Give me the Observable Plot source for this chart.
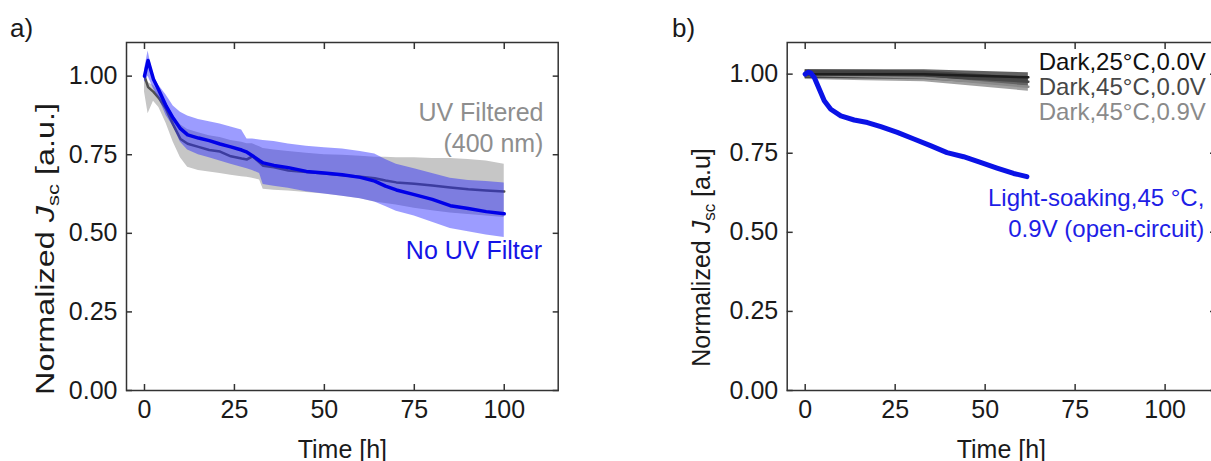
<!DOCTYPE html>
<html><head><meta charset="utf-8">
<script src="https://cdn.jsdelivr.net/npm/d3@7"></script>
<script src="https://cdn.jsdelivr.net/npm/@observablehq/plot@0.6"></script>
<style>
html,body{margin:0;padding:0;background:#fff;}
#wrap{position:relative;width:1211px;height:461px;overflow:hidden;}
#pa{position:absolute;left:0;top:0;width:600px;}
#pb{position:absolute;left:600px;top:0;width:625px;}
#wrap svg{max-width:none !important;display:block;}
</style></head><body><div id="wrap"><div id="pa"></div><div id="pb"></div></div>
<script>
// ---------- data: panel a ----------
const xTicks = [0, 25, 50, 75, 100];
const yTicks = [0, 0.25, 0.5, 0.75, 1.0];
const timeA = [0,1,2.5,4,6,8,10,12,15,18,21,24,27,28.5,30,32,33,36,40,45,50,55,60,64,67,70,75,80,85,90,95,100];
const noUvMean = [1.0,1.05,0.99,0.955,0.905,0.866,0.833,0.813,0.803,0.795,0.784,0.775,0.765,0.758,0.747,0.731,0.724,0.716,0.709,0.697,0.692,0.686,0.678,0.666,0.650,0.638,0.623,0.608,0.588,0.579,0.569,0.562];
const noUvHi   = [1.02,1.08,1.0,0.97,0.94,0.905,0.885,0.873,0.862,0.855,0.848,0.838,0.829,0.80,0.80,0.797,0.795,0.792,0.784,0.777,0.772,0.768,0.76,0.752,0.735,0.72,0.705,0.69,0.675,0.668,0.665,0.66];
const noUvLo   = [0.98,1.0,0.96,0.93,0.875,0.84,0.79,0.765,0.75,0.74,0.73,0.72,0.71,0.705,0.70,0.69,0.655,0.65,0.643,0.632,0.625,0.618,0.61,0.60,0.585,0.57,0.555,0.535,0.515,0.505,0.495,0.487];
const uvMean   = [1.0,0.965,0.95,0.93,0.895,0.845,0.80,0.785,0.775,0.765,0.76,0.745,0.738,0.735,0.745,0.725,0.715,0.71,0.70,0.695,0.69,0.685,0.68,0.675,0.668,0.662,0.658,0.652,0.646,0.64,0.636,0.633];
const uvHi     = [1.0,0.98,0.97,0.95,0.915,0.875,0.845,0.83,0.82,0.81,0.805,0.795,0.79,0.785,0.785,0.775,0.77,0.765,0.76,0.755,0.75,0.748,0.745,0.742,0.742,0.74,0.74,0.738,0.738,0.735,0.73,0.72];
const uvLo     = [0.95,0.88,0.92,0.90,0.85,0.79,0.74,0.71,0.70,0.695,0.69,0.685,0.68,0.678,0.675,0.67,0.64,0.637,0.635,0.63,0.625,0.618,0.61,0.60,0.595,0.59,0.58,0.572,0.565,0.56,0.555,0.55];
const labelsA = ["UV Filtered\n(400 nm)", "No UV Filter"];

// ---------- data: panel b ----------
const darkTime = [0, 17, 33, 62];
const dark25_00 = [1.0, 1.0, 1.0, 0.99];
const dark45_00 = [1.0, 0.998, 0.996, 0.976];
const dark45_09 = [0.997, 0.993, 0.99, 0.96];
const lsTime = [0,0.8,1.5,2.5,3.9,5.3,7.1,9.9,13.6,17.3,21,25.6,30.2,34.8,39.4,44,48.7,53.3,57.9,61.6];
const lsValue = [1.0,1.006,1.004,0.99,0.953,0.916,0.889,0.868,0.855,0.847,0.834,0.816,0.795,0.774,0.752,0.739,0.721,0.703,0.686,0.676];
const labelsB = ["Dark,25°C,0.0V", "Dark,45°C,0.0V", "Dark,45°C,0.9V", "Light-soaking,45 °C,\n0.9V (open-circuit)"];
const xLabel = "Time [h]";

const FONT = "'Liberation Sans', Arial, Helvetica, sans-serif";
const AX = "#333";
const TXT = "#1a1a1a";

function frameMarks() {
  return [
    Plot.axisX(xTicks, {anchor:"bottom", tickSize:0, tickPadding:10, label:null, fontSize:25, fill:TXT}),
    Plot.axisX(xTicks, {anchor:"bottom", tickSize:-6, fill:"none", label:null, stroke:AX, strokeWidth:1.5}),
    Plot.axisX(xTicks, {anchor:"top", tickSize:-6, fill:"none", label:null, stroke:AX, strokeWidth:1.5}),
    Plot.axisY(yTicks, {anchor:"left", tickSize:0, tickPadding:9, label:null, fontSize:25, fill:TXT, tickFormat:d3.format(".2f")}),
    Plot.axisY(yTicks, {anchor:"left", tickSize:-6, fill:"none", label:null, stroke:AX, strokeWidth:1.5}),
    Plot.axisY(yTicks, {anchor:"right", tickSize:-6, fill:"none", label:null, stroke:AX, strokeWidth:1.5}),
    Plot.frame({stroke:AX, strokeWidth:1.5}),
    Plot.text([xLabel], {frameAnchor:"bottom", lineAnchor:"middle", dy:59, text:d=>d, fontSize:25, fill:TXT})
  ];
}

function addYLabel(svg, cx, cy, len, suffix) {
  const t = d3.select(svg).append("text")
    .attr("transform", `translate(${cx},${cy}) rotate(-90)`)
    .attr("text-anchor","middle").attr("dy","0.35em")
    .attr("font-size",25).attr("fill",TXT).attr("font-family", FONT);
  t.append("tspan").text("Normalized ");
  t.append("tspan").attr("font-style","italic").text("J");
  t.append("tspan").attr("font-size",17).attr("dy",5).text("sc");
  t.append("tspan").attr("dy",-5).text(" " + suffix);
  if (len) t.attr("textLength", len).attr("lengthAdjust","spacingAndGlyphs");
}
function addPanelLetter(svg, x, s) {
  d3.select(svg).append("text").attr("x",x).attr("y",28).attr("dy","0.35em")
    .attr("text-anchor","start")
    .attr("font-size",26).attr("fill",TXT).attr("font-family",FONT).text(s);
}

// ---------- panel a ----------
const rowsA = timeA.map((t,i)=>({t, m:noUvMean[i], hi:noUvHi[i], lo:noUvLo[i], gm:uvMean[i], ghi:uvHi[i], glo:uvLo[i]}));
const plotA = Plot.plot({
  width:600, height:461,
  marginLeft:126, marginRight:42.3, marginTop:42, marginBottom:71,
  x:{domain:[-5,115], axis:null},
  y:{domain:[0,1.107], axis:null},
  style:{fontFamily:FONT, fontSize:"25px", color:TXT, background:"transparent"},
  marks:[
    Plot.areaY(rowsA, {x:"t", y1:"glo", y2:"ghi", fill:"#c6c6c6"}),
    Plot.lineY(rowsA, {x:"t", y:"gm", stroke:"#505050", strokeWidth:2.5}),
    Plot.areaY(rowsA, {x:"t", y1:"lo", y2:"hi", fill:"#2323ff", fillOpacity:0.45}),
    Plot.lineY(rowsA, {x:"t", y:"m", stroke:"#0000e8", strokeWidth:3.5}),
    Plot.text([labelsA[0]], {x:110.9, y:0.84, text:d=>d, textAnchor:"end", fontSize:25, lineHeight:1.27, fill:"#8e8e8e"}),
    Plot.text([labelsA[1]], {x:110.5, y:0.445, text:d=>d, textAnchor:"end", fontSize:25, fill:"#1414e6"}),
    ...frameMarks()
  ]
});
addYLabel(plotA, 45, 249, 292, "[a.u.]");
addPanelLetter(plotA, 10, "a)");
document.getElementById("pa").appendChild(plotA);

// ---------- panel b ----------
const darkSeries = [dark25_00, dark45_00, dark45_09];
const darkColors = ["#1e1e1e", "#474747", "#8a8a8a"];
const darkBand = ["#3a3a3a", "#555555", "#8a8a8a"];
const rowsDark = darkSeries.flatMap((vals,k)=>darkTime.map((t,i)=>({k, t, v:vals[i]})));
const rowsLs = lsTime.map((t,i)=>({t, v:lsValue[i]}));
const plotB = Plot.plot({
  width:625, height:461,
  marginLeft:186.7, marginRight:10, marginTop:42, marginBottom:71,
  x:{domain:[-5,114], axis:null},
  y:{domain:[0,1.1], axis:null},
  style:{fontFamily:FONT, fontSize:"25px", color:TXT, background:"transparent"},
  marks:[
    ...[2,1,0].map(k => Plot.areaY(rowsDark.filter(d=>d.k===k), {x:"t", y1:d=>d.v-0.014, y2:d=>d.v+0.014, fill:darkBand[k], fillOpacity:0.8})),
    ...[2,1,0].map(k => Plot.lineY(rowsDark.filter(d=>d.k===k), {x:"t", y:"v", stroke:darkColors[k], strokeWidth:2.5})),
    Plot.lineY(rowsLs, {x:"t", y:"v", stroke:"#0a12e6", strokeWidth:5}),
    Plot.text([labelsB[0]], {x:64.9, y:1.038, text:d=>d, textAnchor:"start", fontSize:24, fill:"#111"}),
    Plot.text([labelsB[1]], {x:64.9, y:0.959, text:d=>d, textAnchor:"start", fontSize:24, fill:darkColors[1]}),
    Plot.text([labelsB[2]], {x:64.9, y:0.880, text:d=>d, textAnchor:"start", fontSize:24, fill:darkColors[2]}),
    Plot.text([labelsB[3]], {x:110.9, y:0.566, text:d=>d, textAnchor:"end", fontSize:24, lineHeight:1.32, fill:"#1e1ee6"}),
    ...frameMarks()
  ]
});
addYLabel(plotB, 701.7-600, 257.5, null, "[a.u]");
addPanelLetter(plotB, 72, "b)");
document.getElementById("pb").appendChild(plotB);
</script></body></html>
